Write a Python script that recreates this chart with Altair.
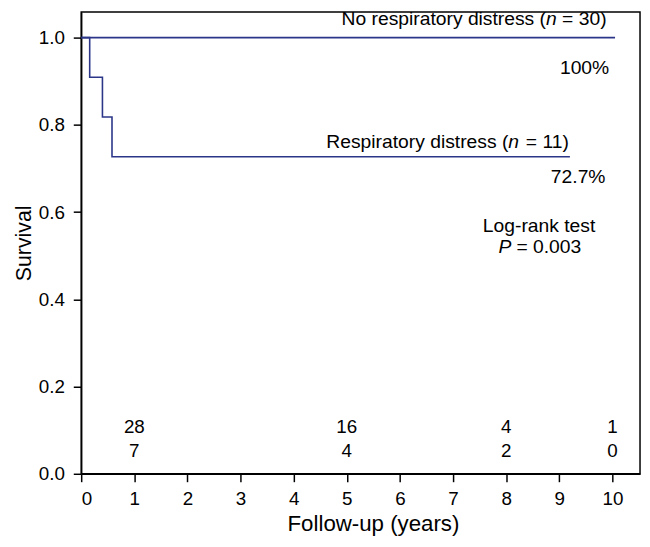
import altair as alt
import pandas as pd

# ---- data ----
rd_times = [0, 0.16, 0.40, 0.58, 9.2]
rd_surv = [1.0, 0.909, 0.818, 0.727, 0.727]
nrd_times = [0, 10.05]
nrd_surv = [1.0, 1.0]

risk_years = [1, 5, 8, 10]
risk_nrd = [28, 16, 4, 1]
risk_rd = [7, 4, 2, 0]

x_ticks = list(range(0, 11))
y_ticks = [0.0, 0.2, 0.4, 0.6, 0.8, 1.0]

FONT = "Liberation Sans"
NAVY = "#2b3688"
ANN = 19.5

xs = alt.Scale(domain=[0, 10.52], nice=False, zero=False)
ys = alt.Scale(domain=[0, 1.059], nice=False, zero=True)

curves = pd.DataFrame({
    "t": nrd_times + rd_times,
    "s": nrd_surv + rd_surv,
    "g": ["No respiratory distress"] * len(nrd_times) + ["Respiratory distress"] * len(rd_times),
})

base_x = alt.X("t:Q", scale=xs, axis=alt.Axis(
    values=x_ticks, format="d", title="Follow-up (years)", grid=False,
    titleX=295, titlePadding=4, labelPadding=8))
base_y = alt.Y("s:Q", scale=ys, axis=alt.Axis(
    values=y_ticks, format=".1f", title="Survival", grid=False,
    titlePadding=3, labelPadding=9, titleFontSize=21.5))

lines = alt.Chart(curves).mark_line(interpolate="step-after", color=NAVY, strokeWidth=1.6).encode(
    x=base_x, y=base_y, detail="g:N")

def txt(text, t, s, align="left", baseline="alphabetic", dx=0, style="normal", size=ANN):
    df = pd.DataFrame({"t": [t], "s": [s], "label": [text]})
    return alt.Chart(df).mark_text(
        align=align, baseline=baseline, dx=dx, font=FONT, fontSize=size,
        fontStyle=style, color="black").encode(
        x=alt.X("t:Q", scale=xs), y=alt.Y("s:Q", scale=ys), text="label:N")

# group labels with italic n
nrd_right = 9.89
rd_right = 9.18
w_rest = 50.4  # width of " = 30)" at 19.5px
w_n = 10.8
layers = [
    txt("= 30)", nrd_right, 1.029, align="right"),
    txt("n", nrd_right, 1.029, align="right", dx=-w_rest, style="italic"),
    txt("No respiratory distress (", nrd_right, 1.029, align="right", dx=-(w_rest + w_n)),
    txt("100%", 9.94, 0.916, align="right"),
    txt("= 11)", rd_right, 0.747, align="right"),
    txt("n", rd_right, 0.747, align="right", dx=-w_rest, style="italic"),
    txt("Respiratory distress (", rd_right, 0.747, align="right", dx=-(w_rest + w_n)),
    txt("72.7%", 9.87, 0.666, align="right"),
    txt("Log-rank test", 8.62, 0.554, align="center"),
    txt("P", 8.64, 0.506, align="left", dx=-42, style="italic"),
    txt("= 0.003", 8.64, 0.506, align="left", dx=-24),
]

risk = pd.DataFrame({
    "t": risk_years * 2,
    "s": [0.107] * len(risk_years) + [0.051] * len(risk_years),
    "label": [str(v) for v in risk_nrd] + [str(v) for v in risk_rd],
})
risk_text = alt.Chart(risk).mark_text(
    align="center", baseline="middle", font=FONT, fontSize=19, color="black").encode(
    x=alt.X("t:Q", scale=xs), y=alt.Y("s:Q", scale=ys), text="label:N")

chart = alt.layer(lines, risk_text, *layers).properties(
    width=565, height=467, autosize="none",
    padding={"left": 74, "top": 1, "right": 2, "bottom": 63},
).configure_view(
    stroke="black", strokeWidth=1.5
).configure_axis(
    labelFont=FONT, titleFont=FONT, labelFontSize=19, titleFontSize=22.5,
    titleFontWeight="normal", labelColor="black", titleColor="black",
    domainColor="black", domainWidth=1.5, tickColor="black", tickWidth=1.5,
    tickSize=8,
)

chart.save("out.html", embed_options={"renderer": "svg", "actions": False})
